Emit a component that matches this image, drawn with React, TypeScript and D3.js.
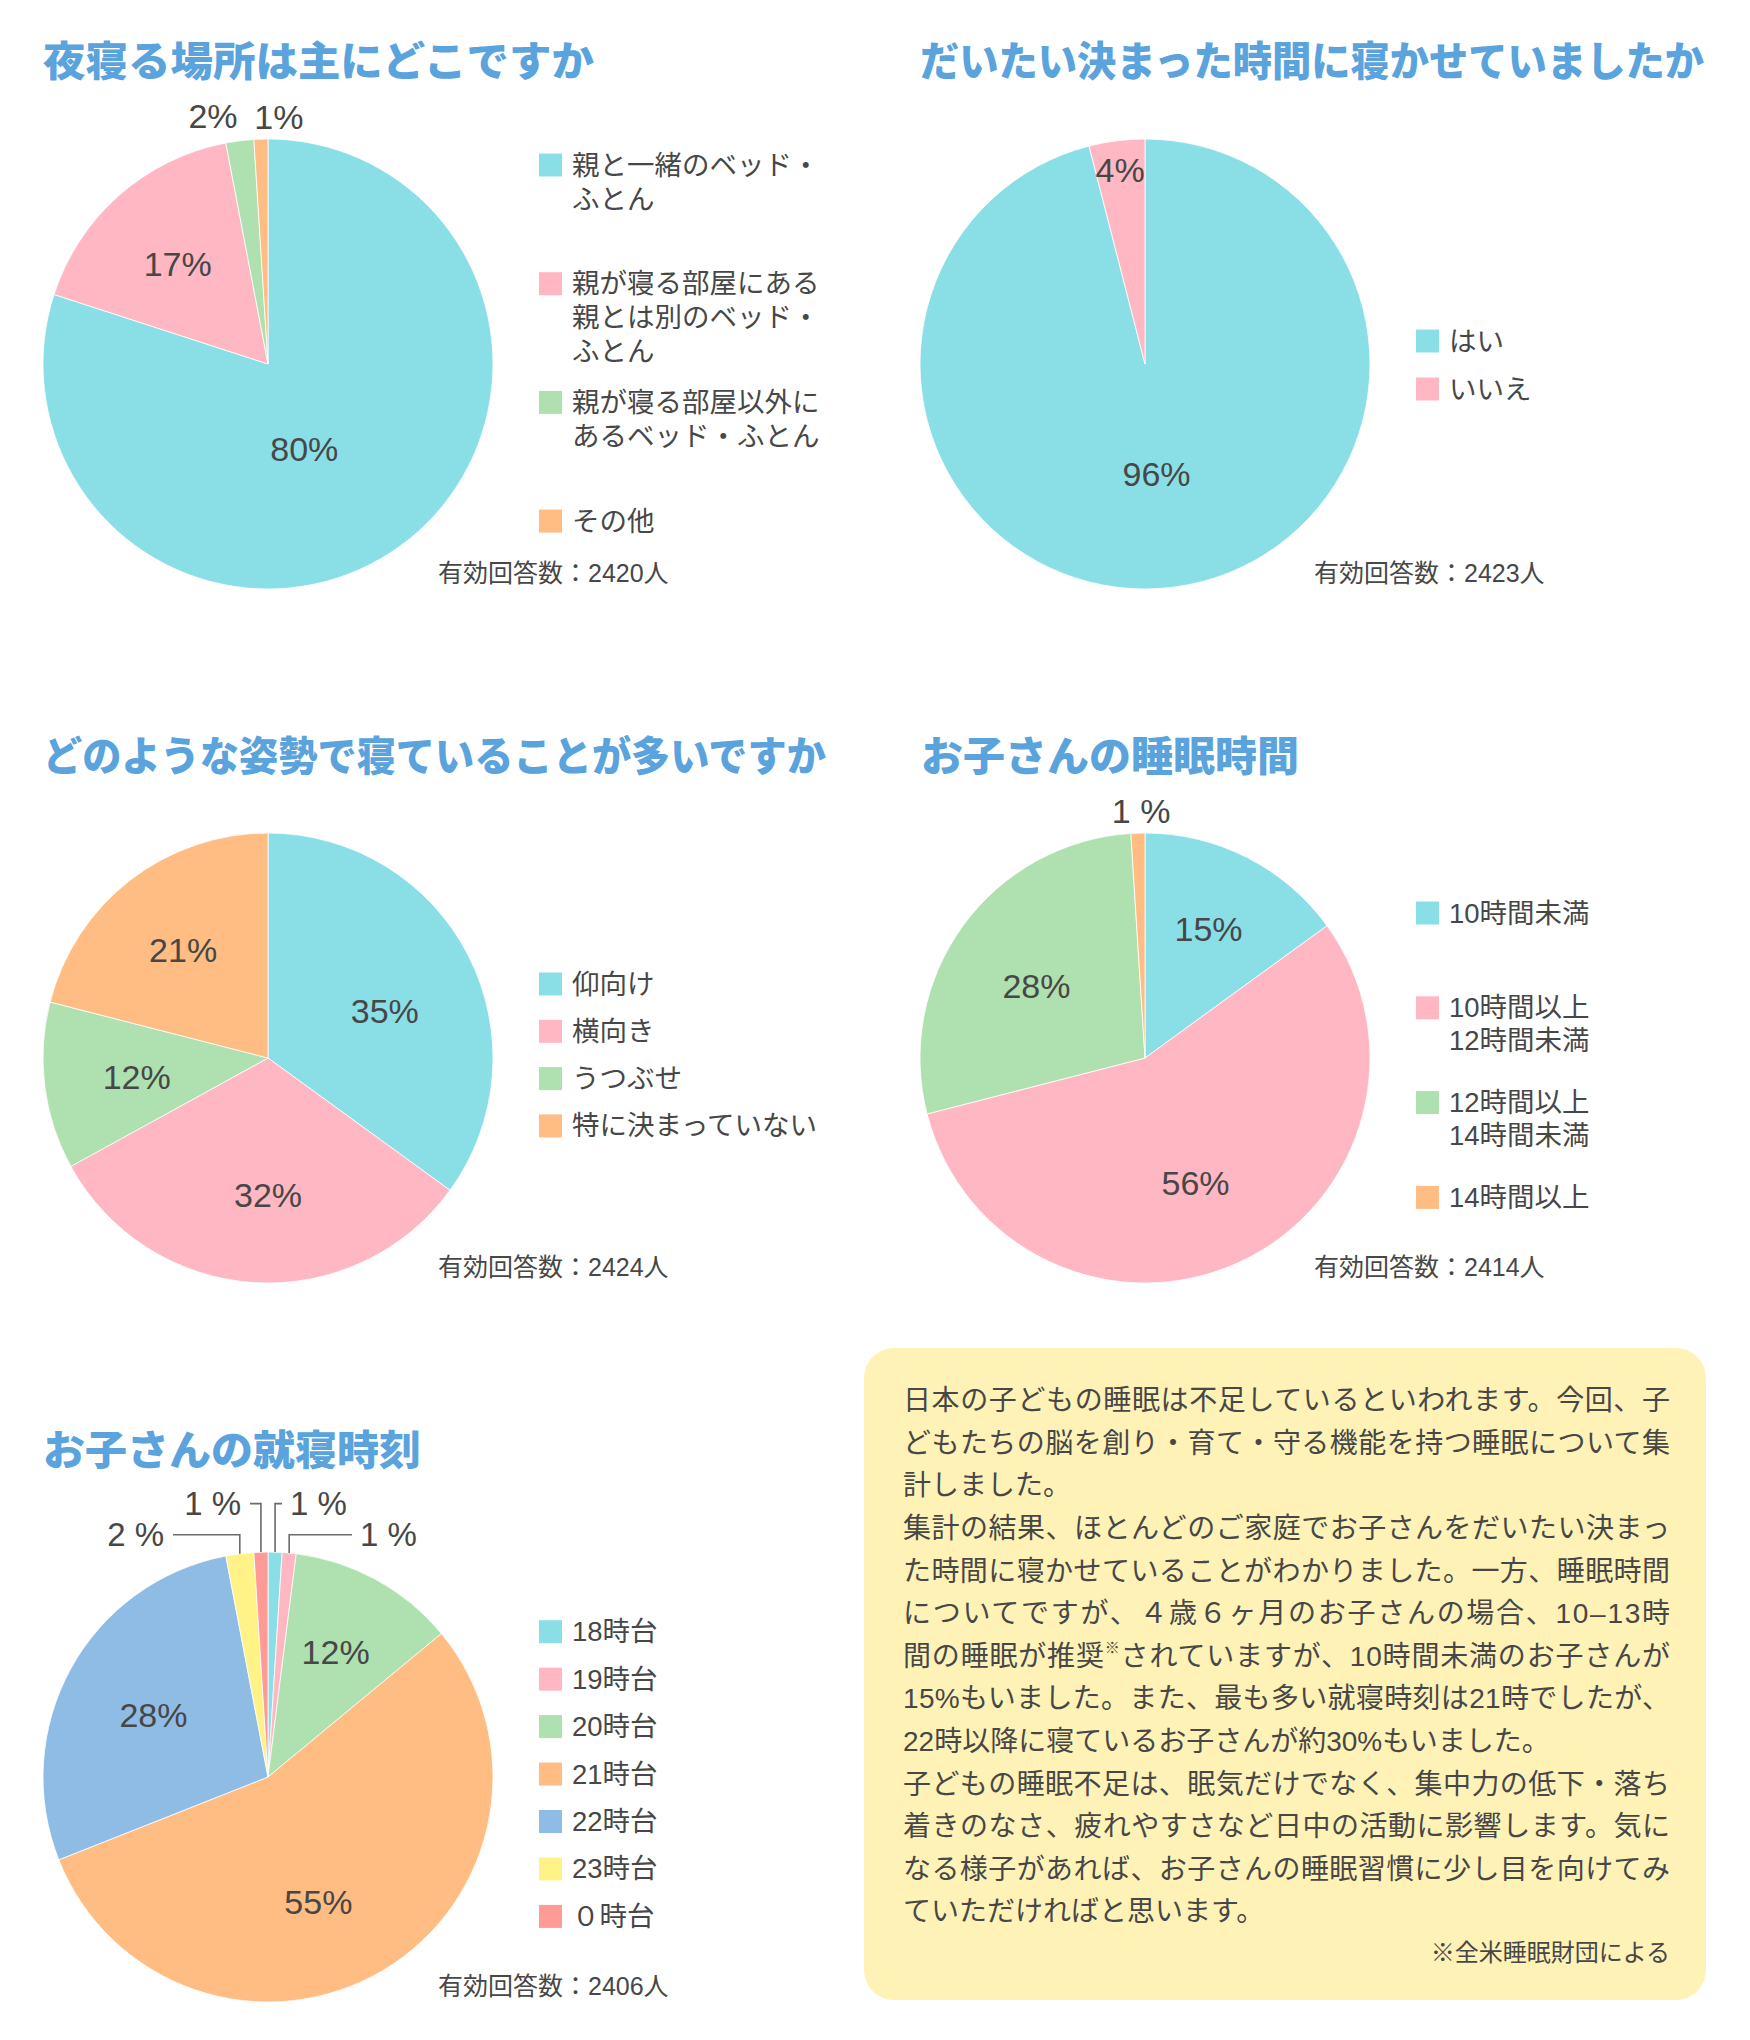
import React from "react";
import * as d3 from "d3";

// ---------- data ----------
const placeTitle = "夜寝る場所は主にどこですか";
const placeCategories = ["親と一緒のベッド・\nふとん", "親が寝る部屋にある\n親とは別のベッド・\nふとん", "親が寝る部屋以外に\nあるベッド・ふとん", "その他"];
const placeValues = [80, 17, 2, 1];
const placeLabels = ["80%", "17%", "2%", "1%"];
const placeN = "有効回答数：2420人";

const scheduleTitle = "だいたい決まった時間に寝かせていましたか";
const scheduleCategories = ["はい", "いいえ"];
const scheduleValues = [96, 4];
const scheduleLabels = ["96%", "4%"];
const scheduleN = "有効回答数：2423人";

const postureTitle = "どのような姿勢で寝ていることが多いですか";
const postureCategories = ["仰向け", "横向き", "うつぶせ", "特に決まっていない"];
const postureValues = [35, 32, 12, 21];
const postureLabels = ["35%", "32%", "12%", "21%"];
const postureN = "有効回答数：2424人";

const durationTitle = "お子さんの睡眠時間";
const durationCategories = ["10時間未満", "10時間以上\n12時間未満", "12時間以上\n14時間未満", "14時間以上"];
const durationValues = [15, 56, 28, 1];
const durationLabels = ["15%", "56%", "28%", "1 %"];
const durationN = "有効回答数：2414人";

const bedtimeTitle = "お子さんの就寝時刻";
const bedtimeCategories = ["18時台", "19時台", "20時台", "21時台", "22時台", "23時台", "０時台"];
const bedtimeValues = [1, 1, 12, 55, 28, 2, 1];
const bedtimeLabels = ["1 %", "1 %", "12%", "55%", "28%", "2 %", "1 %"];
const bedtimeN = "有効回答数：2406人";

const bodyLines = [
  "日本の子どもの睡眠は不足しているといわれます。今回、子",
  "どもたちの脳を創り・育て・守る機能を持つ睡眠について集",
  "計しました。",
  "集計の結果、ほとんどのご家庭でお子さんをだいたい決まっ",
  "た時間に寝かせていることがわかりました。一方、睡眠時間",
  "についてですが、４歳６ヶ月のお子さんの場合、10–13時",
  "間の睡眠が推奨※されていますが、10時間未満のお子さんが",
  "15%もいました。また、最も多い就寝時刻は21時でしたが、",
  "22時以降に寝ているお子さんが約30%もいました。",
  "子どもの睡眠不足は、眠気だけでなく、集中力の低下・落ち",
  "着きのなさ、疲れやすさなど日中の活動に影響します。気に",
  "なる様子があれば、お子さんの睡眠習慣に少し目を向けてみ",
  "ていただければと思います。",
];
const bodyJustified = [true, true, false, true, true, true, true, true, false, true, true, true, false];
const bodyNote = "※全米睡眠財団による";

// ---------- style ----------
const COLORS = ["#8ADFE7", "#FFB7C3", "#AFE0AF", "#FFBC83", "#8FBCE5", "#FFF287", "#FF9B96"];
const TITLE_COLOR = "#5AA3DC";
const TEXT_COLOR = "#474747";
const JP = "'Noto Sans CJK JP', sans-serif";
const MIX = "'Liberation Sans', 'Noto Sans CJK JP', sans-serif";

const R = 225;

type ChartCfg = {
  title: string;
  titleLen: number;
  categories: string[];
  values: number[];
  labels: string[];
  n: string;
  cx: number;
  cy: number;
  titleX: number;
  titleY: number;
  place: [number, number][]; // label placement: angle (deg), radius fraction
  legendX: number;
  legendStart: number;
  legendStep: number;
};

const charts: ChartCfg[] = [
  {
    title: placeTitle, titleLen: 551, categories: placeCategories, values: placeValues, labels: placeLabels, n: placeN,
    cx: 268, cy: 364, titleX: 43, titleY: 58,
    place: [[156.8, 0.41], [318, 0.6], [347.5, 1.13], [2.5, 1.1]],
    legendX: 539, legendStart: -199, legendStep: 118.7,
  },
  {
    title: scheduleTitle, titleLen: 784, categories: scheduleCategories, values: scheduleValues, labels: scheduleLabels, n: scheduleN,
    cx: 1145, cy: 364, titleX: 920, titleY: 58,
    place: [[174, 0.49], [352.7, 0.87]],
    legendX: 1416, legendStart: -23, legendStep: 48,
  },
  {
    title: postureTitle, titleLen: 783, categories: postureCategories, values: postureValues, labels: postureLabels, n: postureN,
    cx: 268, cy: 1058, titleX: 43, titleY: 753,
    place: [[68, 0.56], [180, 0.61], [261.6, 0.59], [321.8, 0.61]],
    legendX: 539, legendStart: -74, legendStep: 47.3,
  },
  {
    title: durationTitle, titleLen: 378, categories: durationCategories, values: durationValues, labels: durationLabels, n: durationN,
    cx: 1145, cy: 1058, titleX: 921, titleY: 753,
    place: [[26.2, 0.64], [158, 0.6], [303.7, 0.58], [359.1, 1.1]],
    legendX: 1416, legendStart: -145, legendStep: 94.8,
  },
  {
    title: bedtimeTitle, titleLen: 378, categories: bedtimeCategories, values: bedtimeValues, labels: bedtimeLabels, n: bedtimeN,
    cx: 268, cy: 1777, titleX: 43, titleY: 1447,
    place: [[0, 0], [0, 0], [28.5, 0.63], [158.1, 0.6], [298.6, 0.58], [0, 0], [0, 0]],
    legendX: 539, legendStart: -145.3, legendStep: 47.45,
  },
];

// leader-line labels for the bedtime chart: slice index, elbow level (fraction of R above centre), horizontal line end (dx from cx)
const bedtimeLeaders: { i: number; level: number; end: number }[] = [
  { i: 0, level: 1.215, end: 14 },
  { i: 1, level: 1.077, end: 84 },
  { i: 5, level: 1.077, end: -95 },
  { i: 6, level: 1.215, end: -18 },
];

function PieChart({ c, idx }: { c: ChartCfg; idx: number }) {
  const pie = d3.pie<number>().sort(null).value((d) => d);
  const arcs = pie(c.values);
  const arc = d3.arc<d3.PieArcDatum<number>>().innerRadius(0).outerRadius(R);
  const lineH = idx === 0 ? 34 : 33;

  return (
    <g>
      <text
        x={c.titleX}
        y={c.titleY}
        fontFamily={JP}
        fontWeight={900}
        fontSize={41}
        fill={TITLE_COLOR}
        dominantBaseline="central"
        textLength={c.titleLen}
        lengthAdjust="spacingAndGlyphs"
      >
        {c.title}
      </text>
      <g transform={`translate(${c.cx},${c.cy})`}>
        {arcs.map((a, i) => (
          <path key={i} d={arc(a) || ""} fill={COLORS[i]} stroke="#ffffff" strokeWidth={0.8} />
        ))}
        {arcs.map((a, i) => {
          const [ang, f] = c.place[i];
          if (f === 0) return null;
          const rad = (ang * Math.PI) / 180;
          return (
            <text
              key={"l" + i}
              x={Math.sin(rad) * R * f}
              y={-Math.cos(rad) * R * f}
              textAnchor="middle"
              dominantBaseline="central"
              fontFamily={MIX}
              fontSize={34}
              fill={TEXT_COLOR}
            >
              {c.labels[i]}
            </text>
          );
        })}
        {idx === 4 &&
          bedtimeLeaders.map((L) => {
            const a = arcs[L.i];
            const mid = (a.startAngle + a.endAngle) / 2;
            const sx = Math.sin(mid) * R;
            const sy = -Math.cos(mid) * R;
            const ey = -R * L.level;
            const right = L.end > sx;
            return (
              <g key={"ld" + L.i}>
                <polyline
                  points={`${sx},${sy} ${sx},${ey} ${L.end},${ey}`}
                  fill="none"
                  stroke="#6b6b6b"
                  strokeWidth={1.6}
                />
                <text
                  x={right ? L.end + 8 : L.end - 9}
                  y={ey}
                  textAnchor={right ? "start" : "end"}
                  dominantBaseline="central"
                  fontFamily={MIX}
                  fontSize={33}
                  fill={TEXT_COLOR}
                >
                  {c.labels[L.i]}
                </text>
              </g>
            );
          })}
      </g>
      {c.categories.map((cat, i) => {
        const y = c.cy + c.legendStart + i * c.legendStep;
        const lines = cat.split("\n");
        return (
          <g key={"lg" + i}>
            <rect x={c.legendX} y={y - 11.5} width={23} height={23} fill={COLORS[i]} />
            {lines.map((ln, j) => (
              <text
                key={j}
                x={c.legendX + 33}
                y={y + j * lineH}
                dominantBaseline="central"
                fontFamily={MIX}
                fontSize={27.5}
                fill={TEXT_COLOR}
              >
                {ln}
              </text>
            ))}
          </g>
        );
      })}
      <text
        x={c.cx + (idx % 2 === 0 ? 170 : 169)}
        y={c.cy + 209}
        dominantBaseline="central"
        fontFamily={MIX}
        fontSize={25}
        fill={TEXT_COLOR}
      >
        {c.n}
      </text>
    </g>
  );
}

function TextBox() {
  const x0 = 864, y0 = 1348, w = 842, h = 652;
  const tx = 903, ty = 1400.6, lh = 42.6, tw = 767;
  return (
    <g>
      <rect x={x0} y={y0} width={w} height={h} rx={30} ry={30} fill="#FFF2B6" />
      {bodyLines.map((ln, i) => {
        const parts = ln.split("※");
        const extra = bodyJustified[i] ? { textLength: tw, lengthAdjust: "spacing" } : {};
        return (
          <text
            key={i}
            x={tx}
            y={ty + i * lh}
            dominantBaseline="central"
            fontFamily={MIX}
            fontSize={28}
            fill={TEXT_COLOR}
            {...(extra as any)}
          >
            {parts.length > 1 ? (
              <>
                <tspan>{parts[0]}</tspan>
                <tspan fontSize={15} dy={-9}>※</tspan>
                <tspan dy={9}>{parts[1]}</tspan>
              </>
            ) : (
              ln
            )}
          </text>
        );
      })}
      <text
        x={tx + tw}
        y={1952}
        textAnchor="end"
        dominantBaseline="central"
        fontFamily={MIX}
        fontSize={24}
        fill={TEXT_COLOR}
      >
        {bodyNote}
      </text>
    </g>
  );
}

export default function App() {
  return (
    <div style={{ position: "absolute", left: 0, top: 0 }}>
      <svg width={1750} height={2040} viewBox="0 0 1750 2040" style={{ display: "block", background: "#fff" }}>
        {charts.map((c, i) => (
          <PieChart key={i} c={c} idx={i} />
        ))}
        <TextBox />
      </svg>
    </div>
  );
}
